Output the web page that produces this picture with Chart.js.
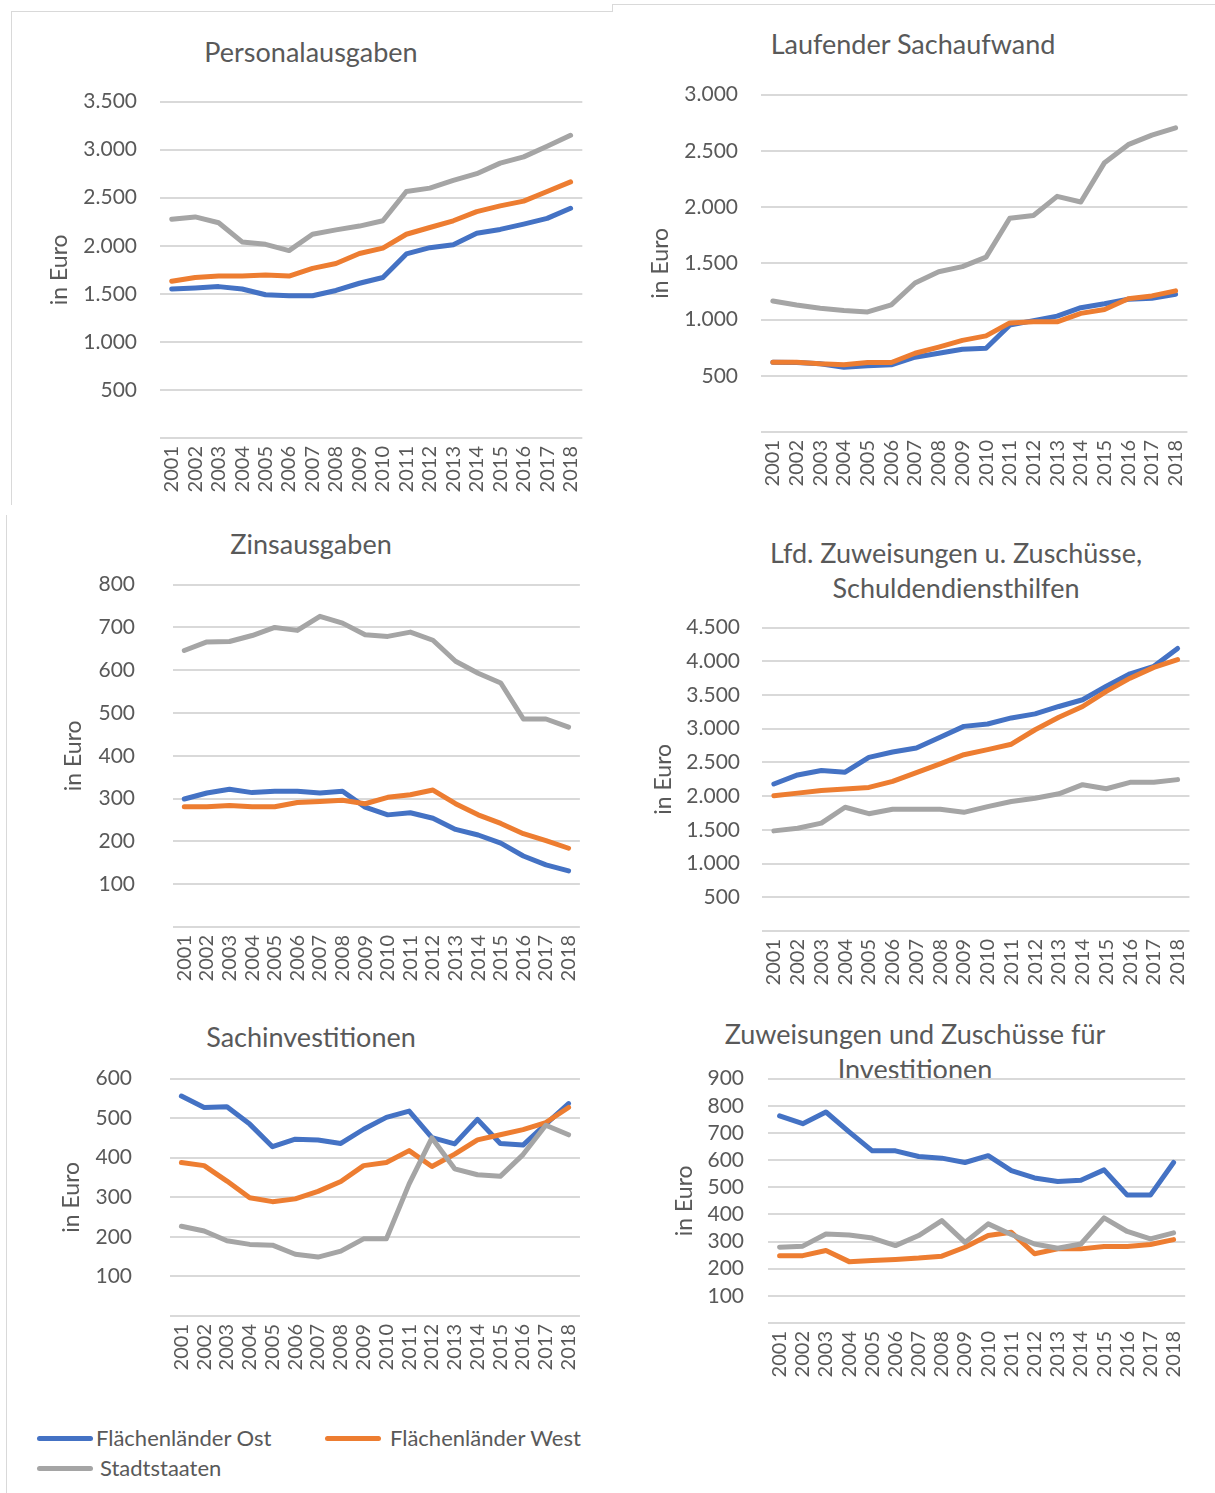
<!DOCTYPE html>
<html lang="de">
<head>
<meta charset="utf-8">
<title>Ausgaben je Einwohner</title>
<script src="https://cdn.jsdelivr.net/npm/chart.js@4.4.1/dist/chart.umd.min.js"></script>
<style>
    body {
        margin: 0;
        width: 1215px;
        height: 1493px;
        position: relative;
        overflow: hidden;
        background: #ffffff;
        font-family: Lato, "Open Sans", sans-serif;
        color: #595959;
    }
    canvas { position: absolute; }
    .titel {
        position: absolute;
        font-size: 27px;
        line-height: 35px;
        text-align: center;
        white-space: nowrap;
        transform: translateX(-50%);
    }
    .rahmen { position: absolute; background: #d9d9d9; }
    .leg-linie { position: absolute; height: 5px; border-radius: 3px; }
    .leg-text { position: absolute; font-size: 22px; line-height: 30px; white-space: nowrap; }
</style>
</head>
<body>

<!-- feine Rahmenlinien wie im Original -->
<div class="rahmen" style="left:11px; top:11px; width:601px; height:1px;"></div>
<div class="rahmen" style="left:11px; top:11px; width:1px; height:494px;"></div>
<div class="rahmen" style="left:612px; top:4px; width:603px; height:1px;"></div>
<div class="rahmen" style="left:612px; top:4px; width:1px; height:8px;"></div>
<div class="rahmen" style="left:6px; top:515px; width:1px; height:978px;"></div>

<div class="titel" style="left:311px; top:34px;">Personalausgaben</div>
<div class="titel" style="left:913px; top:26px;">Laufender Sachaufwand</div>
<div class="titel" style="left:311px; top:526px;">Zinsausgaben</div>
<div class="titel" style="left:956px; top:535px;">Lfd. Zuweisungen u. Zuschüsse,<br>Schuldendiensthilfen</div>
<div class="titel" style="left:311px; top:1019px;">Sachinvestitionen</div>
<div class="titel" style="left:915px; top:1016px;">Zuweisungen und Zuschüsse für<br>Investitionen</div>

<canvas id="personal" width="583" height="432" style="left:20px; top:66px; width:583px; height:432px;"></canvas>
<canvas id="sachaufwand" width="587" height="433" style="left:621px; top:59px; width:587px; height:433px;"></canvas>
<canvas id="zins" width="571" height="453" style="left:30px; top:534px; width:571px; height:453px;"></canvas>
<canvas id="zuweisungen" width="590" height="398" style="left:620px; top:593px; width:590px; height:398px;"></canvas>
<canvas id="sachinvest" width="571" height="348" style="left:30px; top:1028px; width:571px; height:348px;"></canvas>
<canvas id="investzuw" width="576" height="341" style="left:630px; top:1042px; width:576px; height:341px;"></canvas>

<div class="leg-linie" style="left:37px; top:1436px; width:56px; background:#4472C4;"></div>
<div class="leg-text" style="left:96px; top:1423px;">Flächenländer Ost</div>
<div class="leg-linie" style="left:325px; top:1436px; width:56px; background:#ED7D31;"></div>
<div class="leg-text" style="left:390px; top:1423px;">Flächenländer West</div>
<div class="leg-linie" style="left:37px; top:1466px; width:56px; background:#A5A5A5;"></div>
<div class="leg-text" style="left:100px; top:1453px;">Stadtstaaten</div>

<script>
const jahre = ['2001', '2002', '2003', '2004', '2005', '2006', '2007', '2008', '2009',
    '2010', '2011', '2012', '2013', '2014', '2015', '2016', '2017', '2018'];

// Personalausgaben
const personalOst = [1550, 1560, 1575, 1550, 1490, 1480, 1480, 1535, 1610, 1670, 1915, 1980, 2010, 2130, 2170, 2225, 2285, 2390];
const personalWest = [1630, 1670, 1685, 1685, 1695, 1685, 1765, 1815, 1920, 1975, 2120, 2190, 2260, 2355, 2415, 2465, 2565, 2665];
const personalStadt = [2275, 2300, 2240, 2040, 2015, 1950, 2120, 2165, 2205, 2260, 2565, 2600, 2680, 2750, 2860, 2925, 3035, 3150];
const personalTicks = [0, 500, 1000, 1500, 2000, 2500, 3000, 3500];

// Laufender Sachaufwand
const sachOst = [620, 618, 606, 575, 588, 597, 665, 700, 735, 745, 950, 990, 1030, 1105, 1140, 1180, 1190, 1225];
const sachWest = [620, 620, 606, 597, 618, 618, 700, 755, 815, 855, 970, 980, 980, 1055, 1090, 1185, 1210, 1255];
const sachStadt = [1165, 1130, 1100, 1080, 1068, 1130, 1325, 1425, 1470, 1555, 1900, 1925, 2095, 2045, 2395, 2555, 2640, 2705];
const sachTicks = [0, 500, 1000, 1500, 2000, 2500, 3000];

// Zinsausgaben
const zinsOst = [299, 313, 322, 314, 317, 317, 313, 317, 280, 262, 267, 254, 228, 215, 196, 166, 145, 131];
const zinsWest = [281, 281, 284, 281, 281, 291, 293, 296, 288, 303, 309, 320, 288, 262, 242, 218, 202, 184];
const zinsStadt = [646, 666, 667, 681, 700, 693, 726, 710, 683, 679, 689, 670, 621, 593, 570, 486, 486, 467];
const zinsTicks = [0, 100, 200, 300, 400, 500, 600, 700, 800];

// Lfd. Zuweisungen u. Zuschüsse, Schuldendiensthilfen
const zuwOst = [2180, 2315, 2380, 2355, 2575, 2655, 2715, 2875, 3035, 3070, 3160, 3220, 3330, 3430, 3630, 3815, 3925, 4190];
const zuwWest = [2005, 2045, 2085, 2105, 2130, 2220, 2350, 2480, 2615, 2690, 2770, 2985, 3170, 3330, 3555, 3750, 3910, 4025];
const zuwStadt = [1485, 1525, 1600, 1835, 1740, 1805, 1805, 1805, 1760, 1845, 1920, 1970, 2035, 2170, 2110, 2205, 2205, 2245];
const zuwTicks = [0, 500, 1000, 1500, 2000, 2500, 3000, 3500, 4000, 4500];

// Sachinvestitionen
const investOst = [556, 527, 529, 485, 428, 447, 445, 436, 472, 502, 518, 451, 435, 497, 436, 432, 485, 537];
const investWest = [388, 380, 341, 299, 289, 296, 315, 340, 380, 388, 418, 378, 409, 445, 458, 471, 489, 527];
const investStadt = [227, 215, 190, 181, 179, 156, 149, 164, 195, 195, 334, 450, 372, 357, 353, 408, 482, 458];
const investTicks = [0, 100, 200, 300, 400, 500, 600];

// Zuweisungen und Zuschüsse für Investitionen
const invZuwOst = [763, 734, 777, 704, 634, 634, 613, 607, 591, 616, 561, 534, 521, 526, 564, 471, 471, 591];
const invZuwWest = [248, 248, 267, 226, 230, 234, 239, 246, 279, 322, 334, 255, 273, 273, 282, 282, 289, 307];
const invZuwStadt = [279, 283, 328, 324, 313, 285, 322, 377, 297, 365, 326, 291, 275, 291, 387, 337, 310, 332];
const invZuwTicks = [0, 100, 200, 300, 400, 500, 600, 700, 800, 900];

const farbeOst = '#4472C4';
const farbeWest = '#ED7D31';
const farbeStadt = '#A5A5A5';

Chart.defaults.font.family = 'Lato, "Open Sans", sans-serif';
Chart.defaults.color = '#595959';

function tausender(wert) {
    if (wert === 0) return '';
    return String(wert).replace(/\B(?=(\d{3})+(?!\d))/g, '.');
}

function linie(name, daten, farbe, reihenfolge) {
    return {
        label: name,
        data: daten,
        borderColor: farbe,
        backgroundColor: farbe,
        borderWidth: 5,
        pointRadius: 0,
        tension: 0,
        borderJoinStyle: 'round',
        borderCapStyle: 'round',
        order: reihenfolge
    };
}

function zeichneDiagramm(id, ost, west, stadt, tickWerte, breiteY, tickAbstand, titelAbstand) {
    new Chart(document.getElementById(id), {
        type: 'line',
        data: {
            labels: jahre,
            datasets: [
                linie('Flächenländer Ost', ost, farbeOst, 3),
                linie('Flächenländer West', west, farbeWest, 2),
                linie('Stadtstaaten', stadt, farbeStadt, 1)
            ]
        },
        options: {
            responsive: false,
            animation: false,
            layout: { padding: { top: 0, right: 15, bottom: 0, left: 0 } },
            plugins: {
                legend: { display: false },
                tooltip: { enabled: false }
            },
            scales: {
                x: {
                    offset: true,
                    grid: { display: false, drawTicks: false },
                    border: { display: false },
                    ticks: {
                        autoSkip: false,
                        minRotation: 90,
                        maxRotation: 90,
                        padding: 8,
                        font: { size: 20 }
                    },
                    afterFit: function (scale) { scale.height = 60; }
                },
                y: {
                    min: tickWerte[0],
                    max: tickWerte[tickWerte.length - 1],
                    border: { display: false },
                    grid: { color: '#d9d9d9', lineWidth: 2, drawTicks: false },
                    ticks: {
                        autoSkip: false,
                        padding: tickAbstand,
                        font: { size: 21 },
                        callback: function (wert) { return tausender(wert); }
                    },
                    afterBuildTicks: function (scale) {
                        scale.ticks = tickWerte.map(function (v) { return { value: v }; });
                    },
                    title: {
                        display: true,
                        text: 'in Euro',
                        font: { size: 23 },
                        padding: { top: titelAbstand, bottom: 0 }
                    },
                    afterFit: function (scale) { scale.width = breiteY; }
                }
            }
        }
    });
}

zeichneDiagramm('personal', personalOst, personalWest, personalStadt, personalTicks, 140, 23, 26);
zeichneDiagramm('sachaufwand', sachOst, sachWest, sachStadt, sachTicks, 140, 23, 26);
zeichneDiagramm('zins', zinsOst, zinsWest, zinsStadt, zinsTicks, 143, 38, 30);
zeichneDiagramm('zuweisungen', zuwOst, zuwWest, zuwStadt, zuwTicks, 142, 22, 30);
zeichneDiagramm('sachinvest', investOst, investWest, investStadt, investTicks, 140, 38, 28);
zeichneDiagramm('investzuw', invZuwOst, invZuwWest, invZuwStadt, invZuwTicks, 138, 24, 41);
</script>
</body>
</html>
